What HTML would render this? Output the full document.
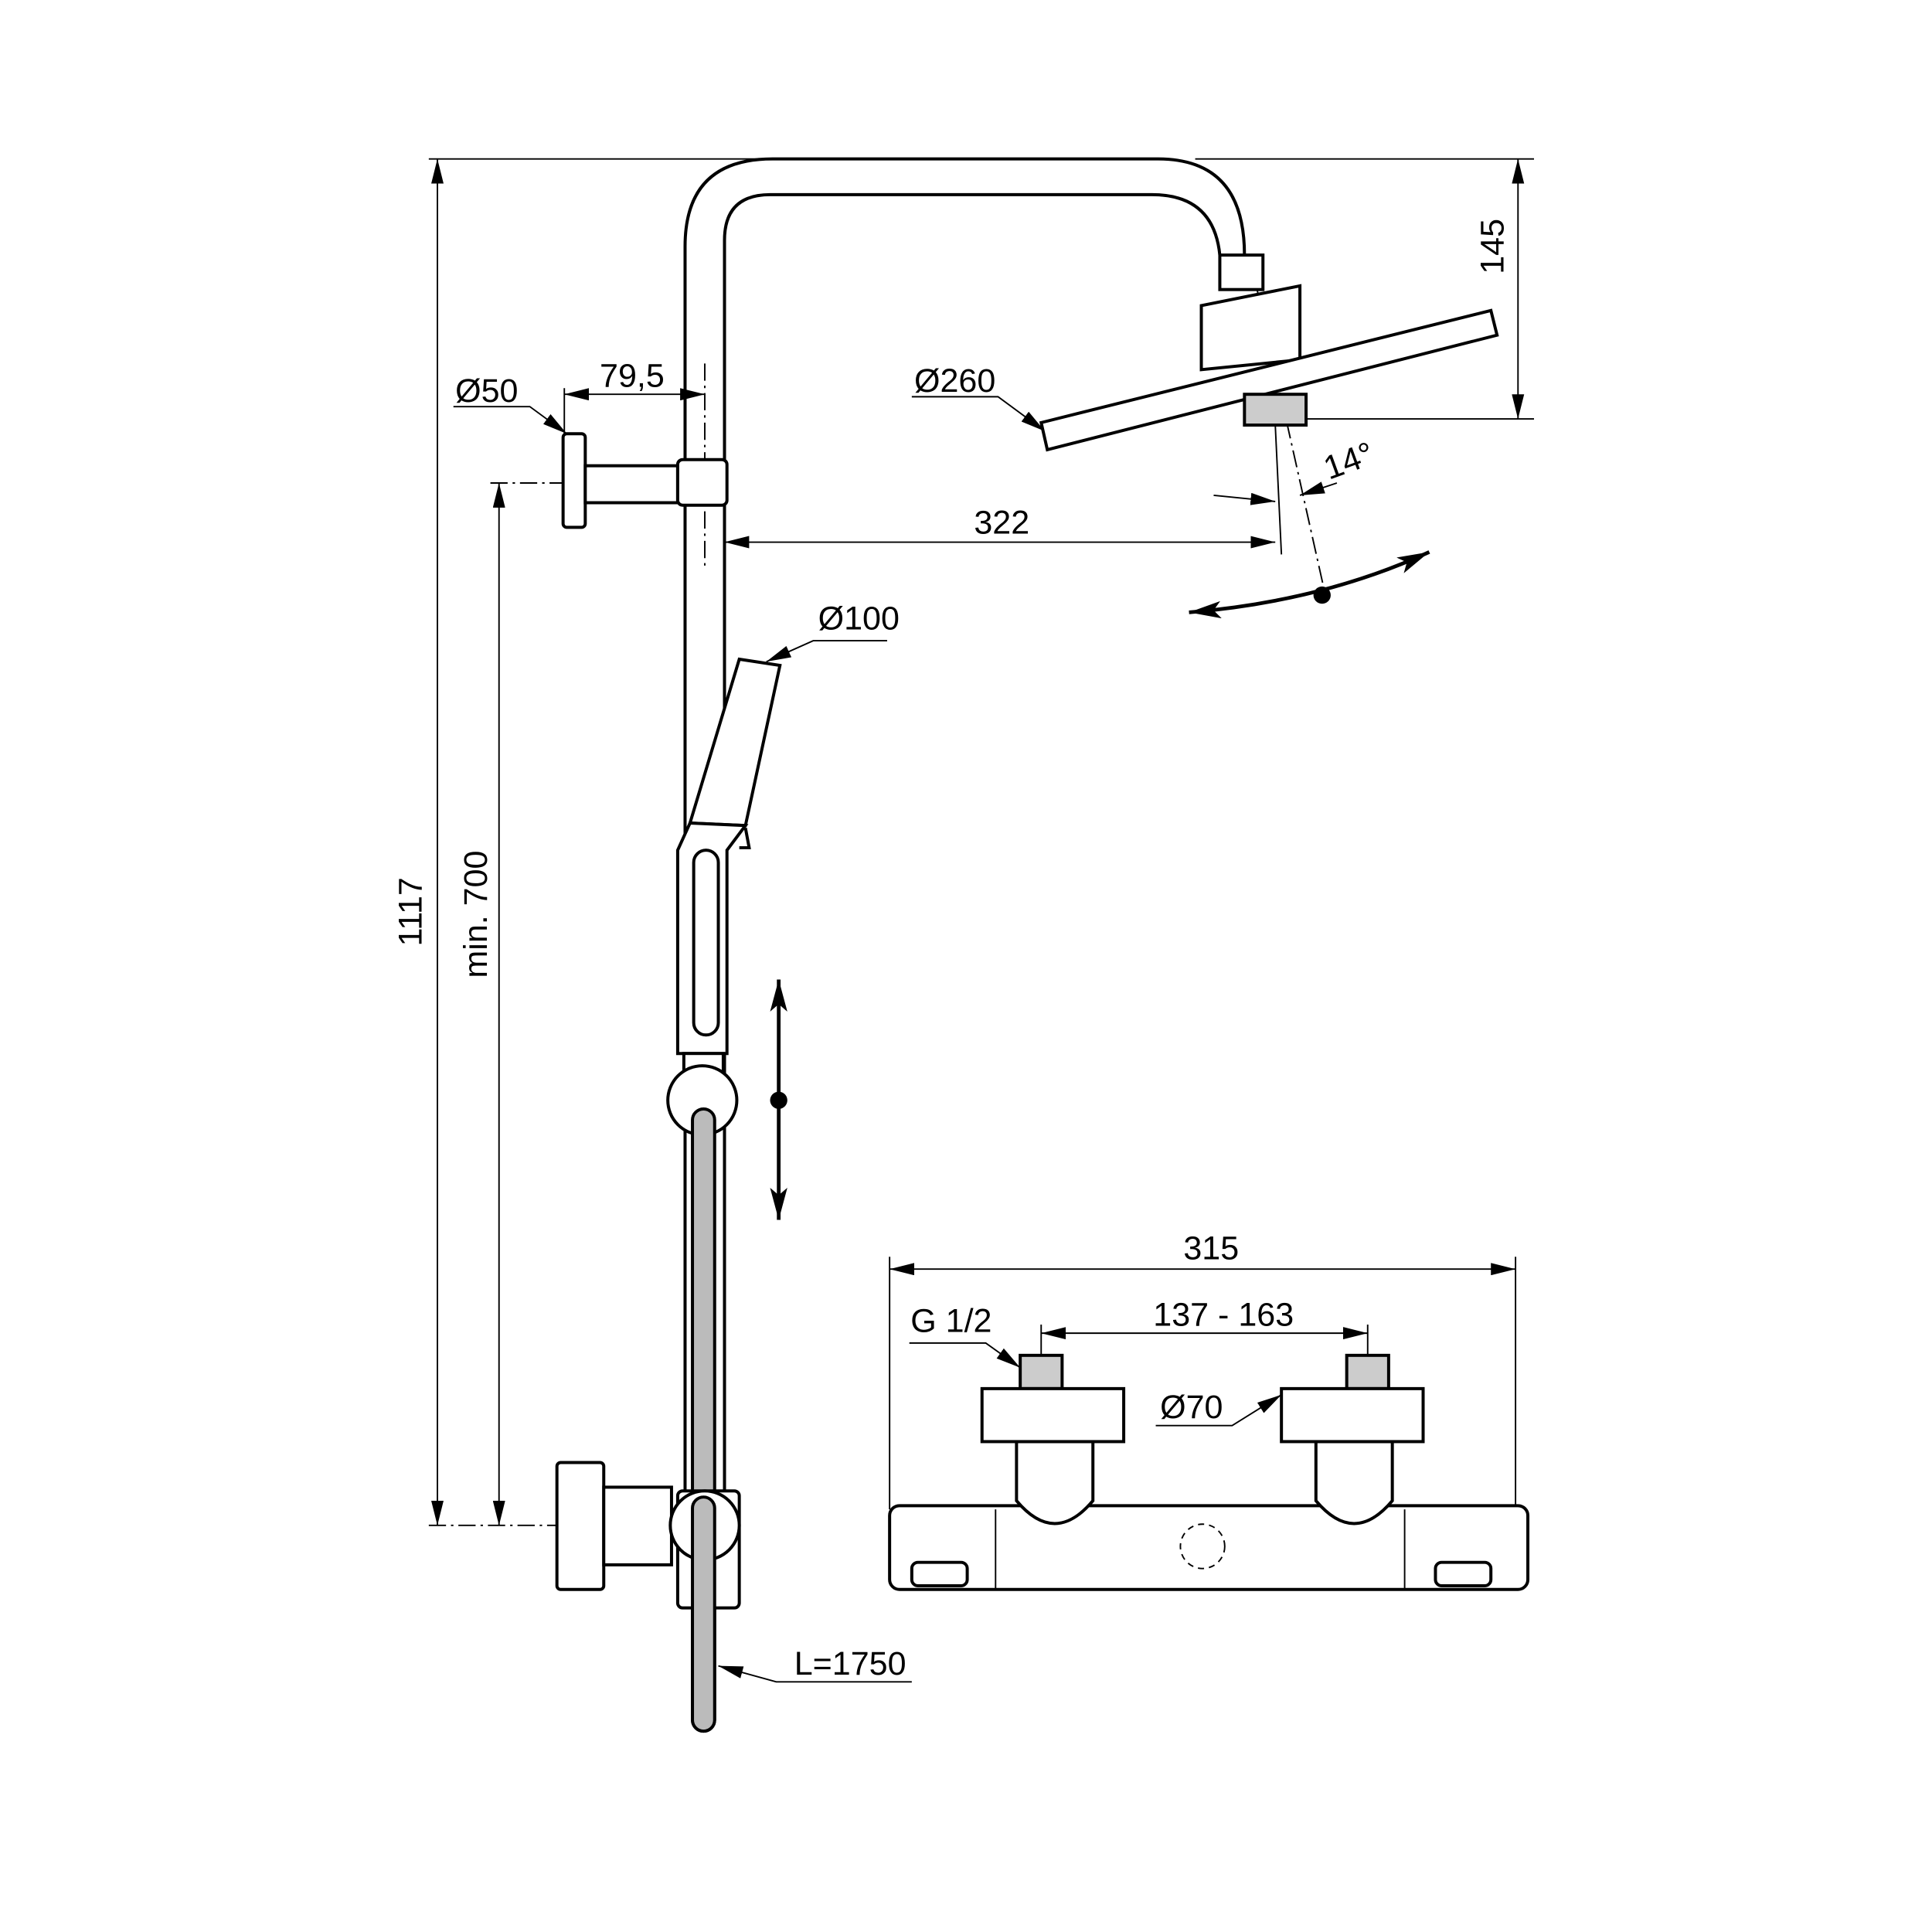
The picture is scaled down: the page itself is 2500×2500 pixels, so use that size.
<!DOCTYPE html>
<html><head><meta charset="utf-8"><style>html,body{margin:0;padding:0;background:#fff}svg{display:block}</style></head>
<body>
<svg width="2500" height="2500" viewBox="0 0 1568 1568" xmlns="http://www.w3.org/2000/svg" font-family="Liberation Sans, sans-serif" font-size="27">
<defs>
<marker id="a" viewBox="0 0 20 10" refX="20" refY="5" markerWidth="20" markerHeight="10" markerUnits="userSpaceOnUse" orient="auto-start-reverse"><path d="M0,0 L20,5 L0,10 Z" fill="#000"/></marker>
<marker id="b" viewBox="0 0 26 14" refX="26" refY="7" markerWidth="26" markerHeight="14" markerUnits="userSpaceOnUse" orient="auto-start-reverse"><path d="M0,0 L26,7 L0,14 L6,7 Z" fill="#000"/></marker>
</defs>
<g stroke="#000" stroke-width="1.2" fill="none">
<line x1="348" y1="129" x2="620" y2="129"/>
<line x1="970" y1="129" x2="1245" y2="129"/>
<line x1="1040" y1="340" x2="1245" y2="340"/>
<line x1="355" y1="129" x2="355" y2="1238" marker-start="url(#a)" marker-end="url(#a)"/>
<line x1="405" y1="392" x2="405" y2="1238" marker-start="url(#a)" marker-end="url(#a)"/>
<line x1="398" y1="392" x2="470" y2="392" stroke-dasharray="14,4,2,4"/>
<line x1="348" y1="1238" x2="520" y2="1238" stroke-dasharray="14,4,2,4"/>
<line x1="1232" y1="129" x2="1232" y2="340" marker-start="url(#a)" marker-end="url(#a)"/>
<line x1="588" y1="440" x2="1035" y2="440" marker-start="url(#a)" marker-end="url(#a)"/>
<line x1="458" y1="320" x2="572" y2="320" marker-start="url(#a)" marker-end="url(#a)"/>
<line x1="458" y1="315" x2="458" y2="352"/>
<line x1="572" y1="295" x2="572" y2="460" stroke-dasharray="14,4,2,4"/>
<line x1="1035" y1="345" x2="1040" y2="450"/>
<line x1="1018" y1="225" x2="1075" y2="480" stroke-dasharray="14,4,2,4"/>
<line x1="985" y1="402" x2="1035" y2="407" marker-end="url(#a)"/>
<line x1="1085" y1="392" x2="1055" y2="402" marker-end="url(#a)"/>
<polyline points="740,322 810,322 848,350" marker-end="url(#a)"/>
<polyline points="368,330 430,330 460,352" marker-end="url(#a)"/>
<polyline points="720,520 660,520 622,537" marker-end="url(#a)"/>
<polyline points="740,1365 630,1365 583,1352" marker-end="url(#a)"/>
<polyline points="738,1090 800,1090 828,1110" marker-end="url(#a)"/>
<polyline points="938,1157 1000,1157 1040,1132" marker-end="url(#a)"/>
<line x1="722" y1="1030" x2="1230" y2="1030" marker-start="url(#a)" marker-end="url(#a)"/>
<line x1="722" y1="1020" x2="722" y2="1225"/>
<line x1="1230" y1="1020" x2="1230" y2="1225"/>
<line x1="845" y1="1082" x2="1110" y2="1082" marker-start="url(#a)" marker-end="url(#a)"/>
<line x1="845" y1="1075" x2="845" y2="1130"/>
<line x1="1110" y1="1075" x2="1110" y2="1130"/>
</g>
<g stroke="#000" stroke-width="3" fill="none">
<path d="M965,497 Q1073,488 1160,448" marker-start="url(#b)" marker-end="url(#b)"/>
<line x1="632" y1="795" x2="632" y2="990" marker-start="url(#b)" marker-end="url(#b)"/>
</g>
<circle cx="1073" cy="483" r="7" fill="#000"/>
<circle cx="632" cy="893" r="7" fill="#000"/>
<g stroke="#000" stroke-width="2.5" fill="#fff">
<path d="M556,1300 L556,200 Q556,129 627,129 L940,129 Q1010,129 1010,207" fill="none"/>
<path d="M588,1300 L588,195 Q588,158 625,158 L935,158 Q985,158 990,207" fill="none"/>
<rect x="990" y="207" width="35" height="28"/>
<path d="M975,248 L1055,232 L1055,292 L975,300 Z"/>
<polygon points="845,343 1210,252 1215,272 850,365"/>
<rect x="1010" y="320" width="50" height="25" fill="#ccc"/>
<rect x="457" y="352" width="18" height="76" rx="3"/>
<rect x="475" y="378" width="75" height="30"/>
<rect x="550" y="373" width="40" height="37" rx="4"/>
<path d="M600,535 L633,540 L605,670 L560,668 Z"/>
<path d="M560,668 L605,670 L590,690 L590,855 L550,855 L550,690 Z"/>
<rect x="563" y="690" width="20" height="150" rx="10"/>
<path d="M605,672 L608,688 L600,688"/>
<rect x="555" y="855" width="32" height="15"/>
<circle cx="570" cy="893" r="28"/>
<rect x="562" y="900" width="18" height="505" rx="9" fill="#bbb"/>
<rect x="452" y="1187" width="38" height="103" rx="3"/>
<rect x="490" y="1207" width="55" height="63"/>
<rect x="550" y="1210" width="50" height="95" rx="4"/>
<circle cx="572" cy="1238" r="28"/>
<rect x="562" y="1215" width="18" height="190" rx="9" fill="#bbb"/>
<rect x="722" y="1222" width="518" height="68" rx="8"/>
<path d="M825,1170 L887,1170 L887,1218 Q856,1255 825,1218 Z"/>
<path d="M1068,1170 L1130,1170 L1130,1218 Q1099,1255 1068,1218 Z"/>
<rect x="828" y="1100" width="34" height="27" fill="#ccc"/>
<rect x="1093" y="1100" width="34" height="27" fill="#ccc"/>
<rect x="797" y="1127" width="115" height="43"/>
<rect x="1040" y="1127" width="115" height="43"/>
<rect x="740" y="1268" width="45" height="19" rx="5"/>
<rect x="1165" y="1268" width="45" height="19" rx="5"/>
</g>
<g stroke="#000" stroke-width="1.2" fill="none">
<line x1="808" y1="1225" x2="808" y2="1290"/>
<line x1="1140" y1="1225" x2="1140" y2="1290"/>
<circle cx="976" cy="1255" r="18" stroke-dasharray="5,4"/>
</g>
<g fill="#000">
<text x="335" y="740" text-anchor="middle" transform="rotate(-90 335 740)" dominant-baseline="middle">1117</text>
<text x="388" y="742" text-anchor="middle" transform="rotate(-90 388 742)" dominant-baseline="middle">min. 700</text>
<text x="1213" y="200" text-anchor="middle" transform="rotate(-90 1213 200)" dominant-baseline="middle">145</text>
<text x="775" y="318" text-anchor="middle">Ø260</text>
<text x="395" y="326" text-anchor="middle">Ø50</text>
<text x="513" y="314" text-anchor="middle">79,5</text>
<text x="813" y="433" text-anchor="middle">322</text>
<text x="1095" y="383" text-anchor="middle" transform="rotate(-20 1095 375)">14°</text>
<text x="697" y="511" text-anchor="middle">Ø100</text>
<text x="690" y="1359" text-anchor="middle">L=1750</text>
<text x="983" y="1022" text-anchor="middle">315</text>
<text x="993" y="1076" text-anchor="middle">137 - 163</text>
<text x="772" y="1081" text-anchor="middle">G 1/2</text>
<text x="967" y="1151" text-anchor="middle">Ø70</text>
</g>
</svg>
</body></html>
